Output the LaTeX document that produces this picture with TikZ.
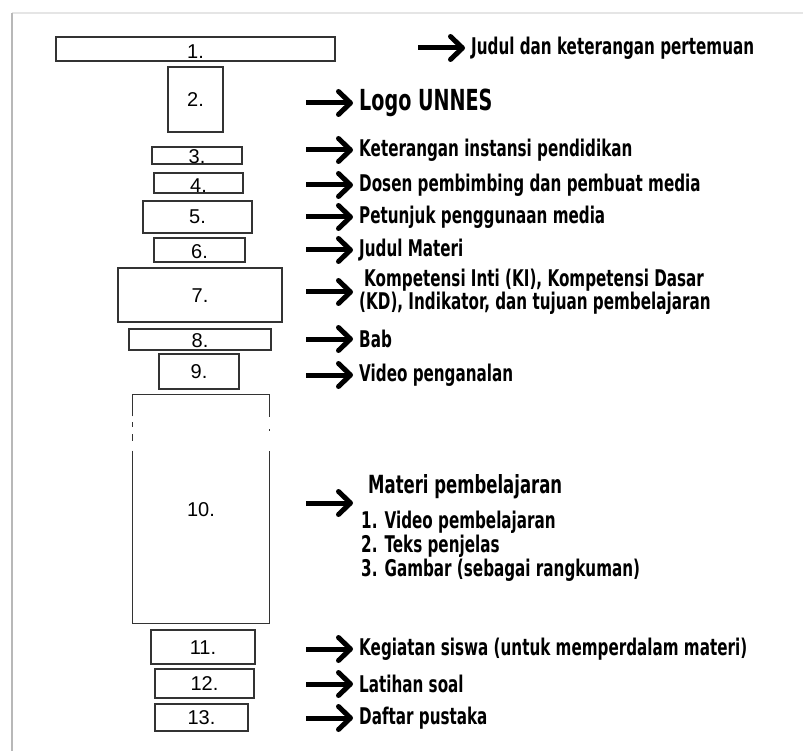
\documentclass[tikz,border=0pt]{standalone}
\usepackage{fontspec}
\setmainfont{Liberation Sans}
\newfontfamily\notefont[FakeStretch=0.66]{DejaVu Sans Bold}
\usetikzlibrary{arrows.meta,positioning,calc}
\tikzset{
  slot/.style={
    draw=black!80,
    line width=1.1pt,
    inner sep=0pt,
    text height=14pt,
    text depth=0pt,
    font=\fontsize{20}{20}\selectfont
  },
  slotline/.style={draw=black!80, line width=1.1pt},
  note/.style={anchor=west, inner sep=0pt, align=left, font=\notefont\fontsize{23}{23}\selectfont},
  bignote/.style={note, font=\notefont\fontsize{25}{25}\selectfont},
  pointer/.style={line width=5pt, -{Straight Barb[length=12pt, width=23pt, round]}},
  pagerule/.style={line width=1.6pt}
}
\newcommand{\cue}[3][6pt]{\draw[pointer, shorten >=#1] (#2) -- (#2 -| #3.west);}

\begin{document}
\begin{tikzpicture}[x=1pt, y=-1pt]
  \useasboundingbox (0,0) rectangle (803,751);
  % page edge
  \draw[pagerule, black!10] (12,13) -- (803,13);
  \draw[pagerule, black!28] (12,751) -- (12,13);

  % layout boxes
  \node[slot, minimum width=279pt, minimum height=24pt, text height=20pt] (b1) at (195.5,49) {1.};
  \node[slot, minimum width=55pt,  minimum height=65pt] (b2) at (195.5,99.5) {2.};
  \node[slot, minimum width=90pt,  minimum height=17pt, text height=17pt] (b3) at (197,155.5) {3.};
  \node[slot, minimum width=89pt,  minimum height=20pt, text height=19pt] (b4) at (198.5,183) {4.};
  \node[slot, minimum width=109pt, minimum height=32pt] (b5) at (197.5,217) {5.};
  \node[slot, minimum width=91pt,  minimum height=24pt, text height=17pt] (b6) at (199.5,250) {6.};
  \node[slot, minimum width=164pt, minimum height=54pt] (b7) at (200,295) {7.};
  \node[slot, minimum width=142pt, minimum height=21pt, text height=16pt] (b8) at (200,339.5) {8.};
  \node[slot, minimum width=80pt,  minimum height=35pt] (b9) at (199,371.5) {9.};
  \node[slot, draw=none, minimum width=136pt, minimum height=228pt] (b10) at (201,509) {10.};
  \node[slot, minimum width=104pt, minimum height=34pt] (b11) at (203,647) {11.};
  \node[slot, minimum width=99pt,  minimum height=29pt] (b12) at (204.5,683.5) {12.};
  \node[slot, minimum width=93pt,  minimum height=27pt] (b13) at (201.5,717.5) {13.};

  % box 10 outline, broken where the screenshots meet
  \draw[slotline] ($(b10.north west)+(0,22)$) -- (b10.north west) -- (b10.north east) -- ($(b10.north east)+(0,23)$);
  \draw[slotline] ($(b10.south west)+(0,-173)$) -- (b10.south west) -- (b10.south east) -- ($(b10.south east)+(0,-173)$);
  \draw[slotline] ($(b10.north west)+(0,28)$) -- +(0,5);
  \draw[slotline] ($(b10.north west)+(0,40)$) -- +(0,7);
  \draw[slotline] ($(b10.north east)+(0,35)$) -- +(0,2);

  % descriptions
  \node[note] (t1) at (471,48) {Judul dan keterangan pertemuan};
  \node[note, font=\notefont\fontsize{29}{29}\selectfont] (t2) at (359,103) {Logo UNNES};
  \node[note] (t3) at (359,150) {Keterangan instansi pendidikan};
  \node[note] (t4) at (359,185) {Dosen pembimbing dan pembuat media};
  \node[note] (t5) at (359,217) {Petunjuk penggunaan media};
  \node[note] (t6) at (359,250) {Judul Materi};
  \node[note] (t7) at (359,292) {\hspace*{5pt}Kompetensi Inti (KI), Kompetensi Dasar\\(KD), Indikator, dan tujuan pembelajaran};
  \node[note] (t8) at (359,339) {Bab};
  \node[note] (t9) at (359,375) {Video penganalan};
  \node[bignote] (t10) at (368,487) {Materi pembelajaran};
  \node[note, font=\notefont\fontsize{23}{24}\selectfont] (t10list) at (361,546)
    {1. Video pembelajaran\\2. Teks penjelas\\3. Gambar (sebagai rangkuman)};
  \node[note] (t11) at (359,649) {Kegiatan siswa (untuk memperdalam materi)};
  \node[note] (t12) at (359,684) {Latihan soal};
  \node[note] (t13) at (359,718) {Daftar pustaka};

  % arrows
  \coordinate (a1) at (418,48);
  \coordinate (a2) at (306,103);
  \coordinate (a3) at (306,150);
  \coordinate (a4) at (306,185);
  \coordinate (a5) at (306,217);
  \coordinate (a6) at (306,250);
  \coordinate (a7) at (306,292);
  \coordinate (a8) at (306,339);
  \coordinate (a9) at (306,375);
  \coordinate (a10) at (306,503);
  \coordinate (a11) at (306,649);
  \coordinate (a12) at (306,684);
  \coordinate (a13) at (306,718);
  \cue{a1}{t1}
  \cue{a2}{t2}
  \cue{a3}{t3}
  \cue{a4}{t4}
  \cue{a5}{t5}
  \cue{a6}{t6}
  \cue{a7}{t7}
  \cue{a8}{t8}
  \cue{a9}{t9}
  \cue[15pt]{a10}{t10}
  \cue{a11}{t11}
  \cue{a12}{t12}
  \cue{a13}{t13}
\end{tikzpicture}
\end{document}
